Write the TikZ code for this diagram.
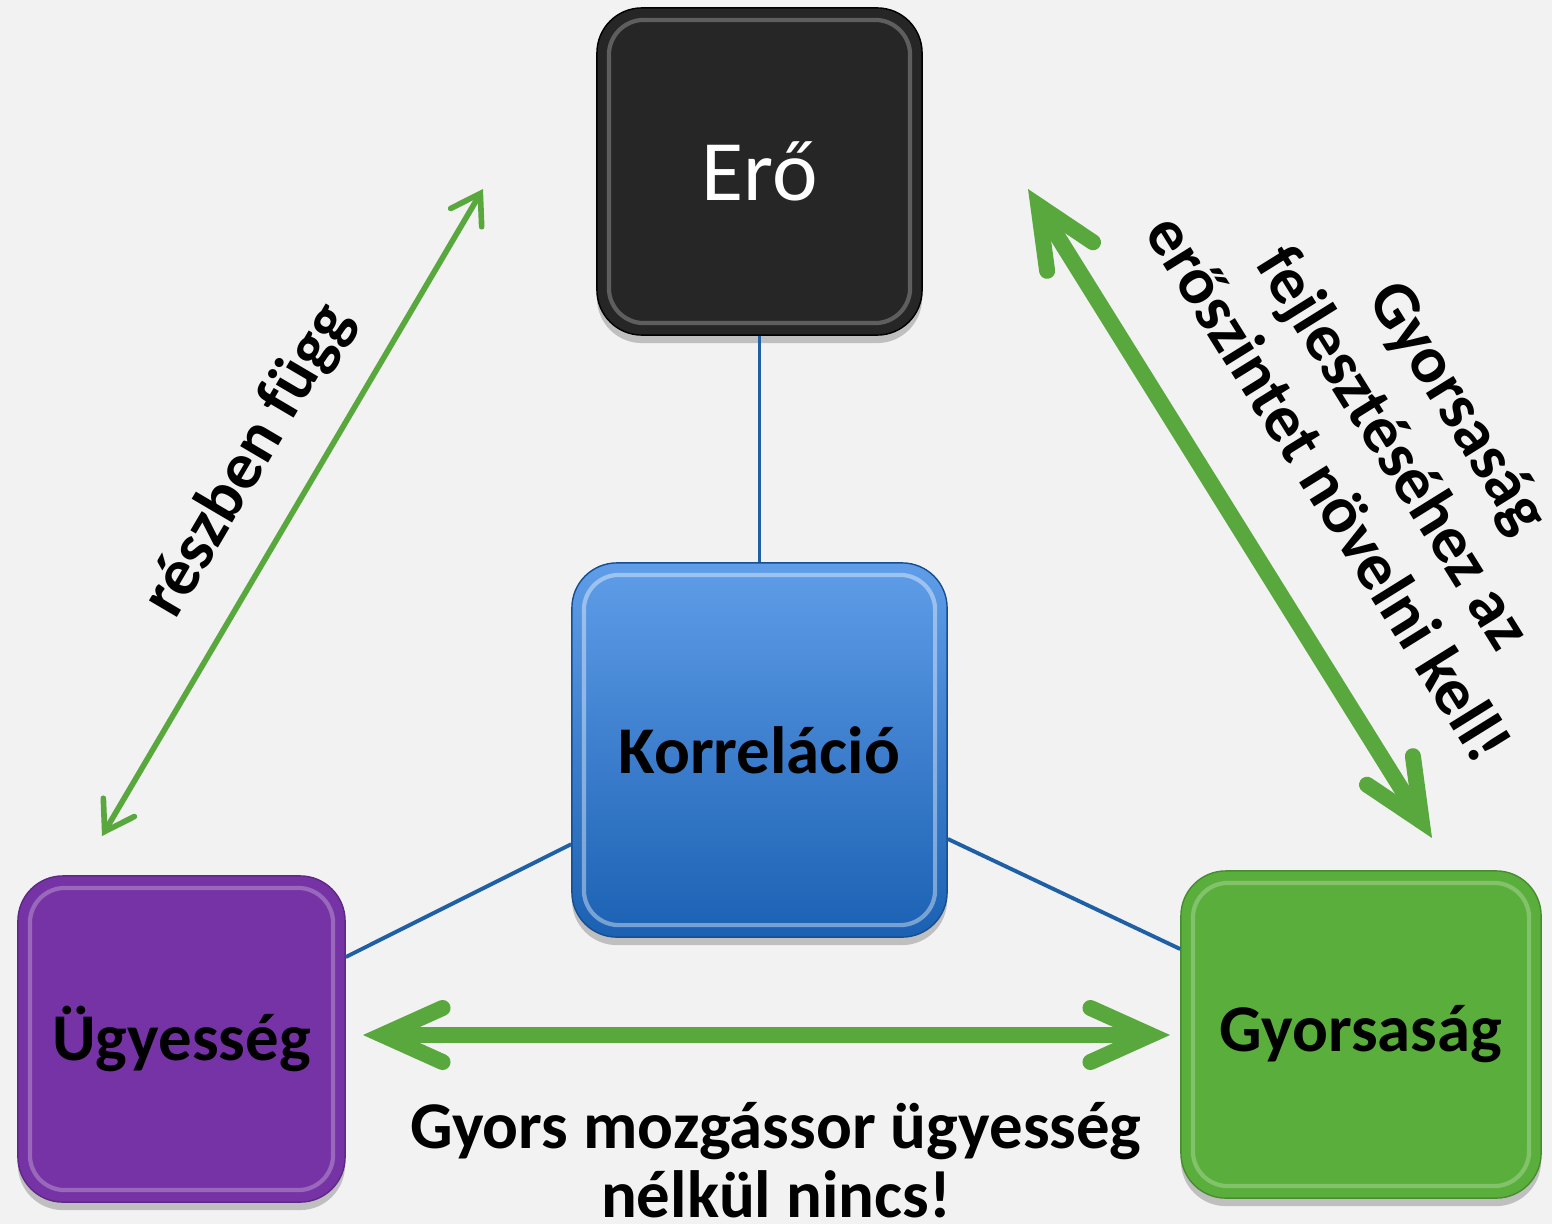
\documentclass[tikz,border=0pt]{standalone}
\usepackage{fontspec}
\setmainfont{Carlito}
\usepackage{tikz}
\usetikzlibrary{arrows.meta, positioning, calc, shadows}
\definecolor{bgcolor}{HTML}{F2F2F2}
\definecolor{erocolor}{HTML}{262626}
\definecolor{korrtop}{HTML}{5F9DE8}
\definecolor{korrbot}{HTML}{1B61B3}
\definecolor{ugycolor}{HTML}{7633A5}
\definecolor{gyorscolor}{HTML}{5AAF3C}
\definecolor{arrowgreen}{HTML}{58A83D}
\definecolor{linkblue}{HTML}{1E5FA6}

\begin{document}
\begin{tikzpicture}[
    x=0.01cm, y=-0.01cm,
    tile/.style={rectangle, rounded corners=4.5mm, inner sep=0pt, minimum width=3.25cm, minimum height=3.27cm,
        font=\fontsize{19}{22}\selectfont\bfseries,
        drop shadow={shadow xshift=0pt, shadow yshift=-0.8mm, opacity=0.3, fill=black!70}},
    bevel/.style={path picture={
        \draw[#1, line width=1.2pt, rounded corners=3.5mm, opacity=0.4]
            ([shift={(1.2mm,-1.2mm)}]path picture bounding box.north west) rectangle
            ([shift={(-1.2mm,1.2mm)}]path picture bounding box.south east);}},
    link/.style={draw=linkblue, line width=1.1pt},
    thinarrow/.style={draw=arrowgreen, line width=1.6pt,
        {Straight Barb[length=2.8mm, width=3.6mm, line cap=round, line join=miter]}-{Straight Barb[length=2.8mm, width=3.6mm, line cap=round, line join=miter]}},
    fatarrow/.style={draw=arrowgreen, line width=1.6mm,
        {Straight Barb[length=6mm, width=5.4mm, line cap=round, line join=miter]}-{Straight Barb[length=6mm, width=5.4mm, line cap=round, line join=miter]}},
    note/.style={font=\fontsize{19}{22}\selectfont\bfseries, align=center},
]
    \fill[bgcolor] (0,0) rectangle (1552,1224);
    \useasboundingbox (0,0) rectangle (1552,1224);

    % the four tiles
    \node[tile, fill=erocolor, draw=black, bevel=gray!60, text=white,
          font=\fontsize{24.5}{28}\selectfont] (ero) at (759.5,171.5) {Erő};
    \node[tile, top color=korrtop, bottom color=korrbot, draw=korrbot!80!black, bevel=white,
          minimum width=3.75cm, minimum height=3.74cm] (korr) at (759.5,750) {Korreláció};
    \node[tile, fill=ugycolor, draw=ugycolor!80!black, bevel=ugycolor!35!white,
          minimum width=3.27cm, minimum height=3.26cm] (ugy) at (181.5,1039) {Ügyesség};
    \node[tile, fill=gyorscolor, draw=gyorscolor!80!black, bevel=gyorscolor!40!white,
          minimum width=3.6cm] (gyors) at (1361,1034.5) {Gyorsaság};

    \draw[link] (ero) -- (korr);
    \draw[link] (korr) -- (ugy);
    \draw[link] (korr) -- (gyors);

    % green arrows
    \coordinate (thinA) at (102,836);
    \coordinate (thinB) at (483,189);
    \coordinate (fatA) at (1028,189);
    \coordinate (fatB) at (1432,838);
    \coordinate (horA) at (363,1035);
    \coordinate (horB) at (1170,1035);

    \draw[thinarrow] (thinA) -- (thinB)
        node[note, sloped, pos=0.53, above=2mm] (partly) {részben függ};
    \draw[fatarrow] (fatA) -- (fatB)
        node[note, sloped, pos=0.54, above=5.5mm] (speednote) {Gyorsaság\\fejlesztéséhez az\\erőszintet növelni kell!};
    \draw[fatarrow] (horA) -- (horB);

    \node[note, font=\fontsize{19}{19.6}\selectfont\bfseries] (skillnote) at (776,1160)
        {Gyors mozgássor ügyesség\\nélkül nincs!};
\end{tikzpicture}
\end{document}
